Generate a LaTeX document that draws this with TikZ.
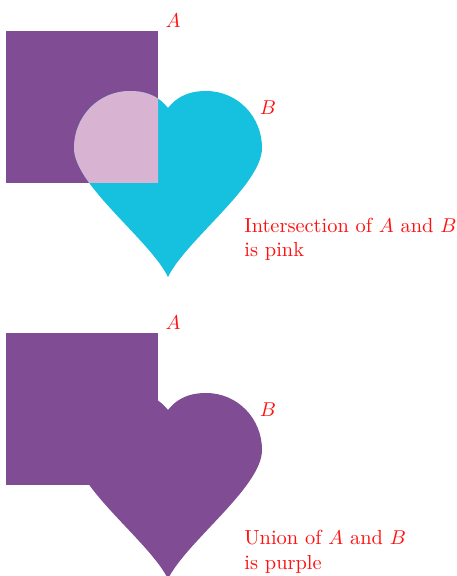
\documentclass[tikz,border=0pt]{standalone}
\usetikzlibrary{positioning}
\definecolor{SetPurple}{HTML}{804C94}
\definecolor{SetCyan}{HTML}{16C0DF}
\definecolor{SetPink}{HTML}{D8B3D2}
\definecolor{SetRed}{HTML}{FF1010}
\newcommand{\heartfill}[1]{%
  \fill[#1] (168,277) .. controls (150,240) and (74,185) .. (74,148)
    .. controls (74,116.5) and (98.5,91) .. (130,91)
    .. controls (150,91) and (161,99) .. (168,108)
    .. controls (175,99) and (186,91) .. (206,91)
    .. controls (237.5,91) and (262,116.5) .. (262,148)
    .. controls (262,185) and (186,240) .. (168,277) -- cycle;}
\tikzset{
  setname/.style={
    text=SetRed,
    font=\fontsize{10.2}{12.2}\selectfont,
    inner sep=0pt
  },
  setnote/.style={
    setname,
    align=left,
    anchor=base west
  }
}

\begin{document}
\begin{tikzpicture}[x=0.5pt,y=-0.5pt]
  \useasboundingbox (0,0) rectangle (456,576);
  % intersection
  \fill[SetPurple] (6,31) rectangle (158,183);
  \heartfill{SetCyan}
  \begin{scope}
    \clip (6,31) rectangle (158,183);
    \heartfill{SetPink}
  \end{scope}
  \node[setname] (capA) at (173,21) {$A$};
  \node[setname] (capB) at (268,108) {$B$};
  \node[setnote] (inter) at (244,257) {Intersection of $A$ and $B$\\is pink};
  % union
  \begin{scope}[yshift=-151pt]
    \fill[SetPurple] (6,31) rectangle (158,183);
    \heartfill{SetPurple}
    \node[setname] (cupA) at (173,21) {$A$};
    \node[setname] (cupB) at (268,108) {$B$};
  \end{scope}
  \node[setnote] (union) at (244,569) {Union of $A$ and $B$\\is purple};
\end{tikzpicture}
\end{document}
